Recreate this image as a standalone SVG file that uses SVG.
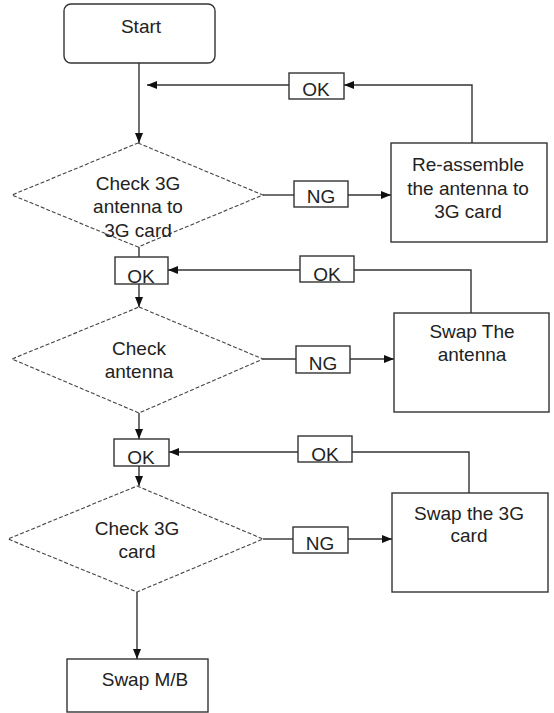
<svg xmlns="http://www.w3.org/2000/svg" width="554" height="713" viewBox="0 0 554 713">
<defs>
<style>
.box{fill:#fff;stroke:#333;stroke-width:1.4}
.dia{fill:#fff;stroke:#444;stroke-width:1.1;stroke-dasharray:4 2}
.con{fill:none;stroke:#333;stroke-width:1.4}
.t{font-family:"Liberation Sans",Arial,sans-serif;font-size:19px;fill:#222;text-anchor:middle}
</style>
<marker id="ah" markerWidth="10" markerHeight="10" viewBox="0 0 10 10" refX="10" refY="5" markerUnits="userSpaceOnUse" orient="auto">
<path d="M0,1 L10,5 L0,9 Z" fill="#111"/>
</marker>
</defs>
<rect width="554" height="713" fill="#fff"/>
<g id="connectors">
<line class="con" x1="139" y1="63" x2="139" y2="143" marker-end="url(#ah)"/>
<polyline class="con" points="472,143 472,85 344,85" marker-end="url(#ah)"/>
<line class="con" x1="289" y1="85" x2="147" y2="85" marker-end="url(#ah)"/>
<line class="con" x1="263" y1="195" x2="294" y2="195"/>
<line class="con" x1="348" y1="195" x2="391" y2="195" marker-end="url(#ah)"/>
<line class="con" x1="139" y1="247" x2="139" y2="257"/>
<line class="con" x1="139" y1="284" x2="139" y2="307" marker-end="url(#ah)"/>
<polyline class="con" points="471,313 471,270 354,270"/>
<line class="con" x1="300" y1="270" x2="168" y2="270" marker-end="url(#ah)"/>
<line class="con" x1="263" y1="359" x2="296" y2="359"/>
<line class="con" x1="350" y1="359" x2="394" y2="359" marker-end="url(#ah)"/>
<line class="con" x1="139" y1="413" x2="139" y2="439" marker-end="url(#ah)"/>
<polyline class="con" points="469,493 469,452 352,452"/>
<line class="con" x1="298" y1="452" x2="169" y2="452" marker-end="url(#ah)"/>
<line class="con" x1="139" y1="466" x2="139" y2="486" marker-end="url(#ah)"/>
<line class="con" x1="263" y1="539" x2="293" y2="539"/>
<line class="con" x1="348" y1="539" x2="392" y2="539" marker-end="url(#ah)"/>
<line class="con" x1="137" y1="592" x2="137" y2="659" marker-end="url(#ah)"/>
</g>
<g id="start">
<rect class="box" x="64" y="4" width="151" height="59" rx="7"/>
<text class="t" x="141" y="33">Start</text>
</g>
<g id="ok1">
<rect class="box" x="289" y="73" width="55" height="26"/>
<text class="t" x="316" y="96">OK</text>
</g>
<g id="check1">
<polygon class="dia" points="138,143 263,195 138,247 12,195"/>
<text class="t" x="138" y="190">Check 3G</text>
<text class="t" x="138" y="213">antenna to</text>
<text class="t" x="138" y="237">3G card</text>
</g>
<g id="ng1">
<rect class="box" x="294" y="181" width="54" height="26"/>
<text class="t" x="321" y="203">NG</text>
</g>
<g id="reassemble">
<rect class="box" x="391" y="143" width="156" height="99"/>
<text class="t" x="468" y="171">Re-assemble</text>
<text class="t" x="468" y="195">the antenna to</text>
<text class="t" x="468" y="218">3G card</text>
</g>
<g id="ok2">
<rect class="box" x="115" y="257" width="53" height="27"/>
<text class="t" x="141" y="283">OK</text>
</g>
<g id="ok2label">
<rect class="box" x="300" y="256" width="54" height="26"/>
<text class="t" x="327" y="281">OK</text>
</g>
<g id="swapantenna">
<rect class="box" x="394" y="313" width="155" height="99"/>
<text class="t" x="472" y="338">Swap The</text>
<text class="t" x="472" y="361">antenna</text>
</g>
<g id="check2">
<polygon class="dia" points="139,307 263,359 139,413 12,359"/>
<text class="t" x="139" y="355">Check</text>
<text class="t" x="139" y="378">antenna</text>
</g>
<g id="ng2">
<rect class="box" x="296" y="346" width="54" height="27"/>
<text class="t" x="323" y="370">NG</text>
</g>
<g id="ok3">
<rect class="box" x="114" y="439" width="55" height="27"/>
<text class="t" x="141" y="464">OK</text>
</g>
<g id="ok3label">
<rect class="box" x="298" y="436" width="54" height="26"/>
<text class="t" x="325" y="461">OK</text>
</g>
<g id="swapcard">
<rect class="box" x="392" y="493" width="156" height="99"/>
<text class="t" x="469" y="520">Swap the 3G</text>
<text class="t" x="469" y="542">card</text>
</g>
<g id="check3">
<polygon class="dia" points="137,486 263,539 137,592 8,539"/>
<text class="t" x="137" y="535">Check 3G</text>
<text class="t" x="137" y="558">card</text>
</g>
<g id="ng3">
<rect class="box" x="293" y="527" width="55" height="26"/>
<text class="t" x="320" y="550">NG</text>
</g>
<g id="swapmb">
<rect class="box" x="67" y="659" width="141" height="53"/>
<text class="t" x="145" y="686">Swap M/B</text>
</g>
</svg>
